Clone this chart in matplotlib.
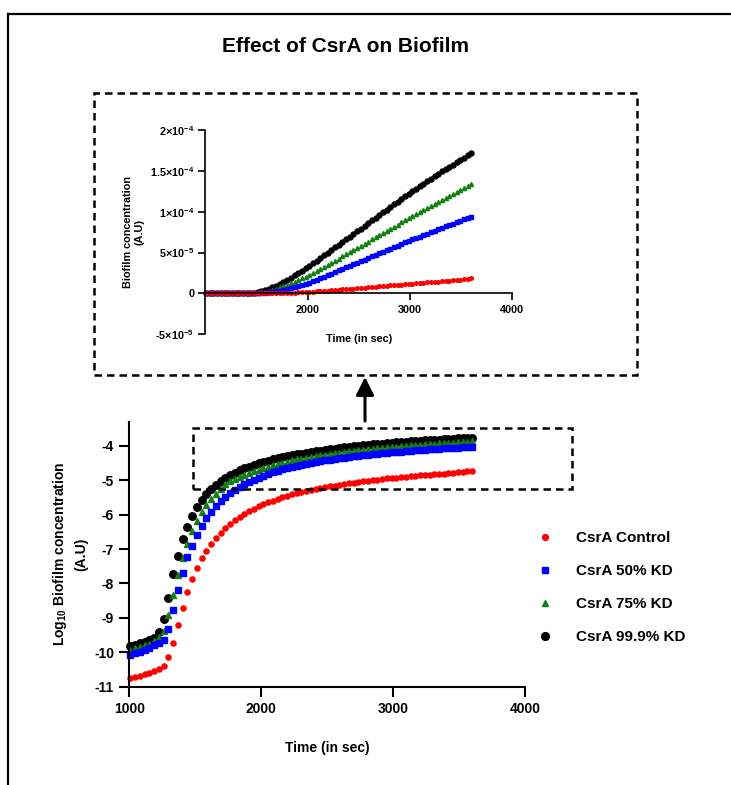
import matplotlib
matplotlib.use("Agg")
import matplotlib.pyplot as plt
from matplotlib.lines import Line2D
from matplotlib.patches import Rectangle, FancyArrowPatch
import numpy as np

plt.rcParams["font.family"] = ["Liberation Sans", "DejaVu Sans"]
plt.rcParams["font.weight"] = "bold"
plt.rcParams["axes.unicode_minus"] = False
plt.rcParams["mathtext.fontset"] = "custom"
plt.rcParams["mathtext.rm"] = "Liberation Sans:bold"
plt.rcParams["mathtext.bf"] = "Liberation Sans:bold"
plt.rcParams["mathtext.default"] = "bf"

W, H = 731, 785


def fx(x):
    return x / W


def fy(y):
    return 1 - y / H


# sampling times (sec)
time_s = [
    1008, 1044, 1080, 1116, 1152, 1188, 1224, 1260, 1296, 1332,
    1368, 1404, 1440, 1476, 1512, 1548, 1584, 1620, 1656, 1692,
    1728, 1764, 1800, 1836, 1872, 1908, 1944, 1980, 2016, 2052,
    2088, 2124, 2160, 2196, 2232, 2268, 2304, 2340, 2376, 2412,
    2448, 2484, 2520, 2556, 2592, 2628, 2664, 2700, 2736, 2772,
    2808, 2844, 2880, 2916, 2952, 2988, 3024, 3060, 3096, 3132,
    3168, 3204, 3240, 3276, 3312, 3348, 3384, 3420, 3456, 3492,
    3528, 3564, 3600,
]

# log10 biofilm concentration
log_control = [
    -10.76, -10.72, -10.68, -10.64, -10.60, -10.55, -10.49, -10.40, -10.14, -9.73,
    -9.21, -8.71, -8.26, -7.87, -7.55, -7.27, -7.06, -6.86, -6.68, -6.54,
    -6.40, -6.28, -6.17, -6.07, -5.98, -5.90, -5.83, -5.76, -5.70, -5.64,
    -5.59, -5.54, -5.50, -5.45, -5.41, -5.38, -5.34, -5.31, -5.28, -5.26,
    -5.23, -5.20, -5.18, -5.16, -5.13, -5.11, -5.09, -5.07, -5.05, -5.03,
    -5.01, -5.00, -4.98, -4.97, -4.95, -4.94, -4.93, -4.91, -4.90, -4.88,
    -4.87, -4.86, -4.85, -4.84, -4.83, -4.82, -4.81, -4.80, -4.78, -4.77,
    -4.76, -4.745, -4.73,
]
log_kd50 = [
    -10.08, -10.03, -9.98, -9.93, -9.87, -9.80, -9.72, -9.63, -9.32, -8.76,
    -8.20, -7.69, -7.24, -6.91, -6.58, -6.33, -6.11, -5.93, -5.75, -5.61,
    -5.48, -5.37, -5.276, -5.194, -5.119, -5.051, -4.991, -4.936, -4.879, -4.824,
    -4.775, -4.728, -4.686, -4.648, -4.613, -4.580, -4.550, -4.521, -4.495, -4.470,
    -4.446, -4.424, -4.402, -4.382, -4.363, -4.344, -4.326, -4.309, -4.292, -4.277,
    -4.261, -4.246, -4.232, -4.218, -4.205, -4.192, -4.180, -4.168, -4.157, -4.146,
    -4.135, -4.124, -4.114, -4.104, -4.095, -4.086, -4.077, -4.068, -4.059, -4.051,
    -4.043, -4.035, -4.027,
]
log_kd75 = [
    -9.92, -9.88, -9.84, -9.80, -9.75, -9.68, -9.55, -9.37, -8.92, -8.33,
    -7.76, -7.26, -6.84, -6.48, -6.18, -5.93, -5.72, -5.54, -5.39, -5.245,
    -5.119, -5.036, -4.963, -4.896, -4.836, -4.783, -4.735, -4.693, -4.648, -4.606,
    -4.565, -4.527, -4.491, -4.457, -4.426, -4.397, -4.370, -4.344, -4.320, -4.297,
    -4.275, -4.254, -4.234, -4.215, -4.197, -4.180, -4.163, -4.147, -4.131, -4.116,
    -4.102, -4.088, -4.074, -4.061, -4.048, -4.036, -4.024, -4.013, -4.002, -3.991,
    -3.981, -3.970, -3.960, -3.950, -3.941, -3.931, -3.922, -3.914, -3.905, -3.897,
    -3.889, -3.881, -3.873,
]
log_kd999 = [
    -9.82, -9.78, -9.74, -9.70, -9.65, -9.58, -9.42, -9.04, -8.41, -7.73,
    -7.19, -6.70, -6.35, -6.03, -5.79, -5.58, -5.40, -5.25, -5.13, -5.027,
    -4.936, -4.854, -4.780, -4.714, -4.656, -4.602, -4.553, -4.507, -4.467, -4.430,
    -4.395, -4.362, -4.331, -4.302, -4.275, -4.250, -4.225, -4.201, -4.179, -4.158,
    -4.138, -4.119, -4.100, -4.083, -4.066, -4.049, -4.033, -4.018, -4.004, -3.989,
    -3.976, -3.962, -3.949, -3.937, -3.925, -3.914, -3.903, -3.892, -3.882, -3.872,
    -3.862, -3.853, -3.844, -3.835, -3.826, -3.818, -3.810, -3.802, -3.795, -3.787,
    -3.780, -3.772, -3.765,
]

labels = ["CsrA Control", "CsrA 50% KD", "CsrA 75% KD", "CsrA 99.9% KD"]
colors = ["#ff0000", "#0000ff", "#118011", "#000000"]
markers = ["o", "s", "^", "o"]
main_ms = [3.7, 4.3, 4.5, 5.4]
inset_ms = [2.6, 2.8, 3.0, 3.6]
legend_ms = [4.2, 4.4, 4.6, 5.6]
series = [log_control, log_kd50, log_kd75, log_kd999]

fig = plt.figure(figsize=(W / 100, H / 100), dpi=100)

# ---- main log plot ----
ax = fig.add_axes([fx(129.3), fy(686.7), (525 - 129.3) / W, (686.7 - 421.7) / H])
# drawn last-to-first so control ends on top
for i in [3, 2, 1, 0]:
    ax.plot(time_s, series[i], ls="none", marker=markers[i], ms=main_ms[i],
            color=colors[i], mec=colors[i], clip_on=False)
ax.set_xlim(1000, 4000)
ax.set_ylim(-11, -3.3)
ax.set_xticks([1000, 2000, 3000, 4000])
ax.set_yticks(list(range(-11, -3)))
for s in ["top", "right"]:
    ax.spines[s].set_visible(False)
for s in ["left", "bottom"]:
    ax.spines[s].set_linewidth(1.5)
ax.tick_params(width=1.5, length=7, labelsize=10, pad=4)
for lab in ax.get_xticklabels() + ax.get_yticklabels():
    lab.set_fontweight("bold")
ax.set_xlabel("Time (in sec)", fontsize=10, fontweight="bold", labelpad=18)
ax.set_ylabel("Log$_{10}$ Biofilm concentration\n(A.U)", fontsize=10,
              fontweight="bold", labelpad=4, linespacing=1.5)

# ---- inset linear plot ----
ax2 = fig.add_axes([fx(205.3), fy(334.3), (512.3 - 205.3) / W, (334.3 - 130) / H])
for i in [3, 2, 1, 0]:
    ax2.plot(time_s, 10 ** np.array(series[i]), ls="none", marker=markers[i],
             ms=inset_ms[i], color=colors[i], mec=colors[i], clip_on=False)
ax2.set_xlim(1000, 4000)
ax2.set_ylim(-5e-5, 2e-4)
ax2.set_xticks([2000, 3000, 4000])
ax2.set_yticks([-5e-5, 0, 5e-5, 1e-4, 1.5e-4, 2e-4])
ax2.set_yticklabels(["-5×10$^{-5}$", "0", "5×10$^{-5}$", "1×10$^{-4}$",
                     "1.5×10$^{-4}$", "2×10$^{-4}$"])
ax2.spines["bottom"].set_position(("data", 0))
for s in ["top", "right"]:
    ax2.spines[s].set_visible(False)
for s in ["left", "bottom"]:
    ax2.spines[s].set_linewidth(1.2)
ax2.tick_params(width=1.2, length=5, labelsize=7.8, pad=3)
for lab in ax2.get_xticklabels() + ax2.get_yticklabels():
    lab.set_fontweight("bold")
ax2.set_xlabel("Time (in sec)", fontsize=7.8, fontweight="bold")
ax2.xaxis.set_label_coords(0.5, 0.0)
ax2.set_ylabel("Biofilm concentration\n(A.U)", fontsize=7.8, fontweight="bold",
               labelpad=4)

# ---- legend ----
handles = [Line2D([], [], ls="none", marker=markers[i], ms=legend_ms[i],
                  color=colors[i]) for i in range(4)]
fig.legend(handles, labels, loc="upper left",
           bbox_to_anchor=(fx(537.5), fy(531)), frameon=False,
           prop={"size": 11, "weight": "bold"}, handlelength=1.0,
           handletextpad=1.5, labelspacing=1.25, borderpad=0, borderaxespad=0)

# ---- title, frame, dashed boxes, arrow ----
fig.text(fx(346), fy(47), "Effect of CsrA on Biofilm", ha="center", va="center",
         fontsize=15, fontweight="bold")

fig.add_artist(Line2D([fx(8), fx(731)], [fy(14), fy(14)], color="black", lw=1.6))
fig.add_artist(Line2D([fx(8), fx(8)], [fy(14), fy(785)], color="black", lw=1.6))

fig.add_artist(Rectangle((fx(94), fy(375)), (637 - 94) / W, (375 - 93) / H,
                         fill=False, ec="black", lw=1.8, ls=(0, (3, 2))))
fig.add_artist(Rectangle((fx(192.5), fy(488.5)), (572 - 192.5) / W, (488.5 - 427.5) / H,
                         fill=False, ec="black", lw=1.8, ls=(0, (3, 2))))

fig.add_artist(FancyArrowPatch((fx(365), fy(421)), (fx(365), fy(377)),
                               transform=fig.transFigure,
                               arrowstyle="-|>,head_length=0.6,head_width=0.3",
                               mutation_scale=18, lw=2.2, color="black",
                               shrinkA=0, shrinkB=0))

fig.savefig("out.png", dpi=100)
